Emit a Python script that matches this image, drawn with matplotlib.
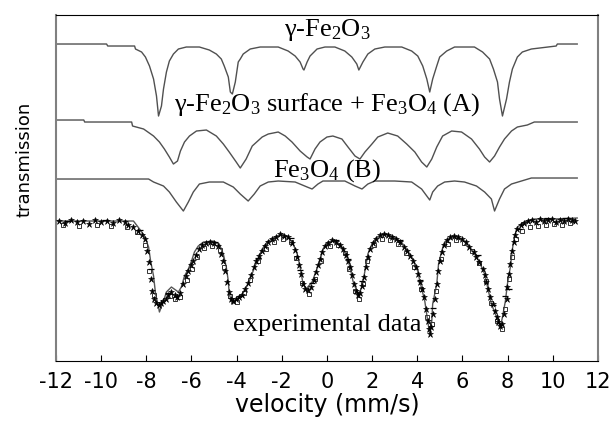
import matplotlib.pyplot as plt

plt.rcParams['axes.unicode_minus'] = False
plt.rcParams['mathtext.fontset'] = 'custom'
plt.rcParams['mathtext.rm'] = 'Liberation Serif'
plt.rcParams['mathtext.default'] = 'regular'

# gamma-Fe2O3 component (velocity mm/s, transmission a.u.)
v_gfe = [-11.96, -9.76, -9.71, -8.52, -8.48, -8.21, -8.04, -7.86, -7.68, -7.55,
         -7.46, -7.33, -7.24, -7.11, -6.98, -6.80, -6.58, -6.23, -5.65, -5.21,
         -4.90, -4.68, -4.55, -4.37, -4.28, -4.19, -4.06, -3.93, -3.84, -3.71,
         -3.40, -2.96, -2.16, -1.72, -1.41, -1.19, -1.06, -1.02, -0.88, -0.75,
         -0.44, -0.09, 0.35, 0.79, 1.10, 1.32, 1.41, 1.59, 1.81, 2.12,
         2.56, 3.31, 3.75, 4.02, 4.24, 4.42, 4.55, 4.68, 4.86, 4.99,
         5.30, 5.65, 6.53, 6.89, 7.20, 7.37, 7.55, 7.64, 7.77, 7.95,
         8.08, 8.21, 8.43, 8.65, 9.05, 10.15, 10.20, 11.08]
t_gfe = [317, 317, 315, 315, 312, 309, 304, 295, 282, 265,
         245, 255, 272, 289, 300, 307, 312, 314, 314, 311,
         307, 302, 295, 284, 269, 267, 279, 299, 302, 307,
         312, 314, 314, 310, 305, 299, 292, 291, 299, 305,
         312, 314, 314, 310, 304, 297, 291, 299, 307, 312,
         314, 314, 310, 305, 295, 282, 269, 282, 295, 304,
         310, 314, 314, 309, 302, 292, 279, 262, 245, 262,
         279, 292, 304, 309, 312, 315, 317, 317]

# gamma-Fe2O3 surface + Fe3O4 (A)
v_a = [-11.96, -10.77, -10.73, -8.65, -8.61, -8.12, -7.68, -7.42, -7.20, -6.98,
       -6.80, -6.62, -6.49, -6.31, -6.09, -5.78, -5.34, -4.90, -4.59, -4.33,
       -4.02, -3.84, -3.58, -3.31, -2.87, -2.60, -2.16, -1.85, -1.55, -1.19,
       -0.88, -0.75, -0.53, -0.31, 0.00, 0.26, 0.66, 0.93, 1.24, 1.46,
       1.68, 1.99, 2.25, 2.69, 3.13, 3.53, 3.89, 4.19, 4.42, 4.64,
       4.86, 5.12, 5.52, 5.96, 6.40, 6.75, 6.98, 7.20, 7.42, 7.64,
       7.86, 8.17, 8.43, 8.87, 9.18, 11.08]
t_a = [241, 241, 239, 239, 235, 232, 225, 219, 212, 204,
       197, 200, 210, 219, 225, 230, 231, 225, 217, 209,
       199, 193, 202, 215, 224, 227, 229, 225, 219, 210,
       204, 202, 212, 219, 224, 225, 222, 214, 205, 202,
       209, 217, 224, 228, 225, 217, 209, 199, 194, 202,
       214, 225, 230, 229, 222, 212, 204, 199, 205, 214,
       222, 230, 234, 236, 239, 239]

# Fe3O4 (B)
v_b = [-11.96, -7.90, -7.68, -7.24, -6.98, -6.67, -6.36, -6.14, -5.92, -5.65,
       -5.21, -4.59, -4.15, -3.84, -3.49, -3.22, -2.96, -2.60, -2.16, -1.41,
       -0.88, -0.66, -0.40, -0.18, 0.79, 1.24, 1.55, 1.81, 2.12, 3.00,
       3.75, 4.19, 4.55, 4.68, 4.90, 5.21, 5.65, 6.09, 6.62, 6.98,
       7.28, 7.42, 7.64, 7.86, 8.17, 8.61, 9.05, 11.08]
t_b = [182, 182, 179, 175, 169, 159, 150, 159, 169, 177,
       179, 179, 174, 167, 160, 167, 175, 179, 180, 179,
       174, 172, 177, 180, 180, 175, 172, 177, 180, 180,
       179, 172, 161, 169, 175, 179, 180, 179, 175, 169,
       162, 150, 162, 172, 177, 180, 183, 183]

# total fit through the experimental data
v_fit = [-11.96, -8.57, -8.30, -8.08, -7.90, -7.81, -7.68, -7.59, -7.46, -7.42,
         -7.24, -7.11, -6.89, -6.58, -6.45, -6.31, -6.14, -6.00, -5.87, -5.70,
         -5.47, -5.03, -4.77, -4.59, -4.46, -4.37, -4.33, -4.19, -4.06, -3.75,
         -3.49, -3.27, -3.09, -2.87, -2.65, -2.30, -1.99, -1.72, -1.50, -1.32,
         -1.19, -1.06, -0.93, -0.66, -0.53, -0.31, -0.18, 0.04, 0.35, 0.66,
         0.88, 1.02, 1.15, 1.32, 1.37, 1.55, 1.68, 1.81, 1.99, 2.21,
         2.56, 3.00, 3.36, 3.75, 4.02, 4.11, 4.33, 4.46, 4.55, 4.64,
         4.68, 4.86, 4.94, 5.08, 5.21, 5.52, 5.78, 6.09, 6.45, 6.75,
         6.98, 7.15, 7.28, 7.51, 7.68, 7.77, 7.90, 7.99, 8.12, 8.21,
         8.30, 8.43, 8.74, 9.18, 10.07, 11.08]
t_fit = [140, 140, 132, 125, 114, 100, 85, 67, 54, 49,
         60, 69, 74, 69, 74, 85, 92, 100, 109, 115,
         119, 120, 117, 107, 94, 80, 67, 57, 60, 67,
         77, 90, 100, 112, 119, 124, 127, 124, 117, 107,
         94, 77, 72, 79, 87, 100, 112, 119, 120, 114,
         104, 94, 80, 70, 65, 74, 90, 107, 117, 124,
         127, 124, 117, 104, 90, 80, 60, 40, 27, 40,
         57, 77, 97, 110, 119, 124, 124, 120, 110, 99,
         87, 70, 57, 44, 34, 44, 60, 77, 94, 112,
         124, 134, 139, 142, 142, 143]

# measured points (three symbol sets)
v_pts = [-11.88, -11.61, -11.35, -11.08, -10.82, -10.55, -10.29, -10.02, -9.76, -9.49, -9.23, -8.96, -8.79, -8.61,
         -8.39, -8.21, -8.08, -7.99, -7.90, -7.81, -7.73, -7.64, -7.55,
         -7.46, -7.37, -7.28, -7.15, -7.02, -6.89, -6.75, -6.62, -6.49,
         -6.36, -6.23, -6.14, -6.00, -5.92, -5.78, -5.65, -5.52, -5.34, -5.17, -4.99, -4.81,
         -4.68, -4.59, -4.50, -4.42, -4.33, -4.24, -4.15, -4.02, -3.89, -3.75,
         -3.62, -3.49, -3.36, -3.22, -3.13, -3.00, -2.87, -2.74, -2.60, -2.43, -2.25, -2.08, -1.90, -1.72, -1.55,
         -1.41, -1.32, -1.24, -1.15, -1.06, -0.97, -0.84, -0.71, -0.57, -0.49, -0.40, -0.31, -0.22,
         -0.09, 0.04, 0.22, 0.40, 0.57, 0.71,
         0.84, 0.93, 1.02, 1.10, 1.19, 1.28, 1.37, 1.46, 1.55, 1.63, 1.72, 1.81, 1.90,
         2.03, 2.16, 2.34, 2.52, 2.69, 2.87, 3.05, 3.22,
         3.40, 3.53, 3.66, 3.80, 3.93, 4.02, 4.11, 4.19, 4.28, 4.37, 4.46, 4.50,
         4.55, 4.59, 4.68, 4.77, 4.86, 4.90, 4.99, 5.08, 5.17, 5.30,
         5.43, 5.61, 5.78, 5.96, 6.14, 6.31, 6.49, 6.62, 6.75,
         6.89, 6.98, 7.06, 7.15, 7.24, 7.33, 7.42, 7.51, 7.59, 7.68, 7.77,
         7.86, 7.95, 7.99, 8.08, 8.12, 8.21, 8.26, 8.34, 8.43, 8.57, 8.74, 8.92, 9.09, 9.27, 9.45, 9.62,
         9.80, 9.98, 10.15, 10.33, 10.51, 10.68, 10.86, 10.99]
t_pts = [140, 138, 141, 139, 140, 137, 141, 139, 140, 138, 141, 139, 136, 134,
         130, 126, 122, 110, 99, 82, 70, 62, 58,
         56, 58, 60, 62, 66, 69, 66, 64, 68,
         77, 85, 90, 96, 100, 106, 112, 116, 118, 119, 118, 115,
         107, 100, 90, 79, 69, 62, 60, 62, 64, 66,
         72, 78, 86, 94, 100, 105, 110, 115, 119, 122, 124, 127, 125, 124, 118,
         111, 104, 96, 87, 77, 72, 71, 74, 81, 89, 96, 102, 109,
         115, 118, 121, 119, 116, 112,
         106, 100, 94, 86, 77, 70, 66, 68, 75, 84, 94, 104, 112,
         118, 122, 126, 127, 126, 124, 122, 119,
         114, 110, 105, 100, 94, 87, 79, 72, 64, 52, 40, 32,
         27, 34, 47, 62, 77, 90, 100, 109, 116, 121,
         124, 125, 124, 122, 119, 114, 109, 104, 99,
         92, 86, 79, 72, 64, 57, 50, 44, 39, 35, 37,
         47, 62, 74, 87, 97, 110, 119, 126, 132, 136, 138, 140, 141, 139, 142, 140,
         141, 142, 139, 141, 140, 142, 141, 140]

v_sq = [-11.70, -10.99, -10.20, -9.58, -8.87, -8.43, -8.04, -7.86, -7.68, -6.93, -6.71, -6.53,
        -6.18, -5.96, -5.74, -5.43, -5.08, -4.72, -4.55, -4.28, -3.97, -3.66, -3.40, -3.05,
        -2.69, -2.34, -1.94, -1.59, -1.37, -1.10, -0.79, -0.53, -0.26, 0.13, 0.49, 0.79,
        0.97, 1.24, 1.41, 1.59, 1.77, 2.08, 2.43, 2.78, 3.13, 3.49, 3.84, 4.15,
        4.42, 4.64, 4.81, 5.03, 5.34, 5.70, 6.05, 6.40, 6.71, 7.02, 7.28, 7.55,
        7.73, 7.90, 8.08, 8.21, 8.39, 8.65, 9.01, 9.36, 9.71, 10.07, 10.42, 10.77]
t_sq = [136, 135, 136, 135, 134, 129, 116, 90, 66, 65, 62, 64,
        81, 92, 104, 113, 115, 111, 94, 65, 59, 68, 81, 100,
        112, 119, 122, 119, 103, 78, 67, 82, 100, 115, 116, 108,
        92, 70, 62, 77, 100, 116, 122, 121, 117, 108, 94, 72,
        44, 37, 70, 102, 117, 121, 118, 110, 98, 80, 58, 40,
        32, 52, 82, 104, 122, 130, 134, 135, 136, 137, 136, 138]

v_dash = [-11.52, -9.85, -8.30, -7.81, -7.02, -4.94, -3.84, -3.05, -1.59, -1.19, -0.66, 0.40,
          0.93, 1.55, 3.22, 4.11, 4.68, 6.67, 7.37, 7.90, 8.04, 8.52, 9.76, 10.55]
t_dash = [140, 141, 131, 92, 68, 119, 65, 103, 123, 91, 78, 121,
          102, 80, 121, 81, 53, 106, 56, 65, 72, 132, 143, 143]

velocity_ticks = list(range(-12, 13, 2))

fig = plt.figure(figsize=(6.1, 4.27), dpi=100)
ax = fig.add_axes([0.0918, 0.1522, 0.8885, 0.8103])

comp_color = '#505050'
ax.plot(v_gfe, t_gfe, color=comp_color, lw=1.0)
ax.plot(v_a, t_a, color=comp_color, lw=1.0)
ax.plot(v_b, t_b, color=comp_color, lw=1.0)

ax.plot(v_fit, t_fit, color='#555555', lw=1.0, zorder=2)
ax.plot(v_sq, t_sq, ls='none', marker='s', ms=3.5, mfc='none', mec='#333333', mew=0.7, zorder=3)
ax.plot(v_pts, t_pts, ls='none', marker='*', ms=4.5, color='black', mew=0.4, zorder=4)
ax.plot(v_dash, t_dash, ls='none', marker='_', ms=5, color='black', mew=0.9, zorder=4)

serif = 'Liberation Serif'
ax.text(0, 326, 'γ-Fe$_2$O$_3$', ha='center', va='baseline', fontsize=19, family=serif)
ax.text(0, 251, 'γ-Fe$_2$O$_3$ surface + Fe$_3$O$_4$ (A)', ha='center', va='baseline',
        fontsize=19, family=serif)
ax.text(0, 185, 'Fe$_3$O$_4$ (B)', ha='center', va='baseline', fontsize=19, family=serif)
ax.text(0, 31, 'experimental data', ha='center', va='baseline', fontsize=19, family=serif)

ax.set_xlim(-12, 12)
ax.set_ylim(0, 346)
ax.set_xticks(velocity_ticks)
ax.set_xticklabels([str(v) for v in velocity_ticks])
ax.set_yticks([])
ax.tick_params(axis='x', direction='in', length=4, width=0.8, labelsize=15, pad=7)

ax.spines['top'].set_color('black')
ax.spines['bottom'].set_color('black')
ax.spines['left'].set_color('#808080')
ax.spines['right'].set_color('#808080')
ax.spines['left'].set_linewidth(1.5)
ax.spines['right'].set_linewidth(1.5)

ax.set_xlabel('velocity (mm/s)', fontsize=17, labelpad=1)
ax.set_ylabel('transmission', fontsize=13)
ax.yaxis.set_label_coords(-0.041, 0.587)

fig.savefig('out.png', dpi=100)
